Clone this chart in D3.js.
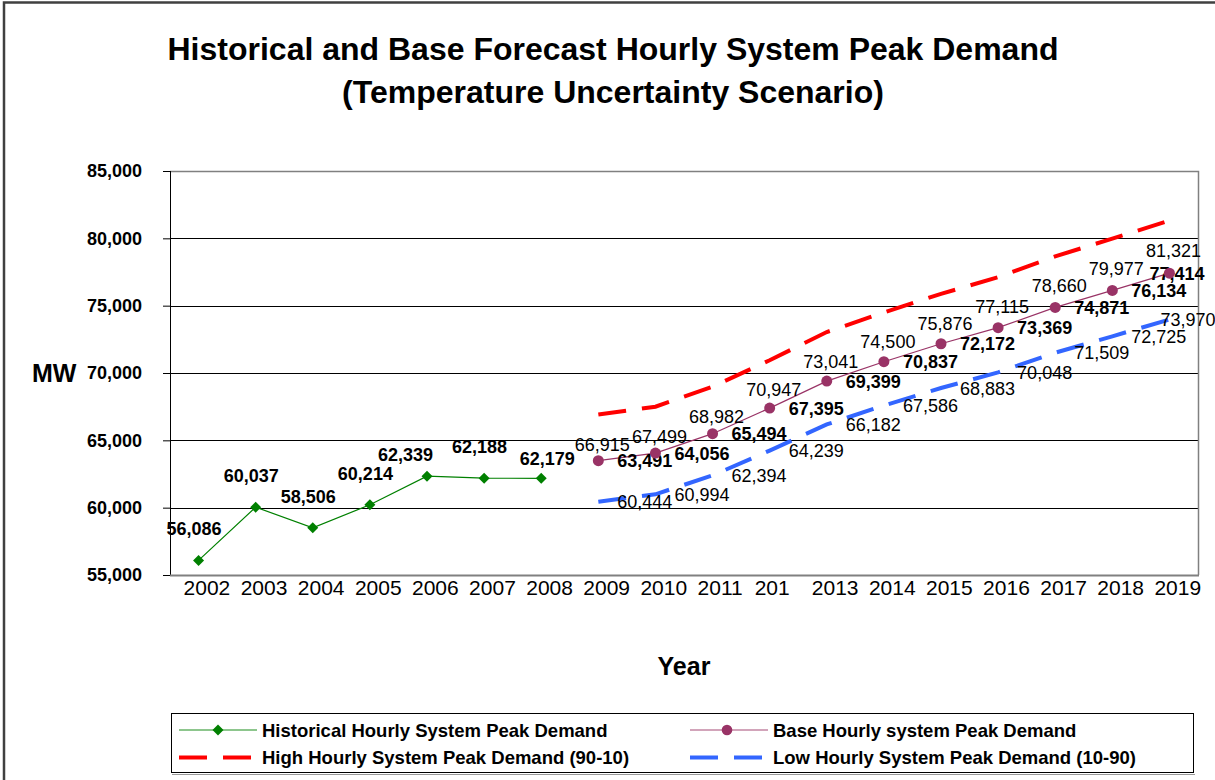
<!DOCTYPE html>
<html>
<head>
<meta charset="utf-8">
<script src="https://cdn.jsdelivr.net/npm/d3@7"></script>
<style>
  html, body { margin: 0; padding: 0; background: #fff; overflow: hidden; }
  text { font-family: "Liberation Sans", Arial, Helvetica, sans-serif; fill: #000; }
</style>
</head>
<body>
<svg id="chart" width="1215" height="780"></svg>
<script>
// ---- Data ----
const categories = ["2002", "2003", "2004", "2005", "2006", "2007", "2008", "2009", "2010",
                    "2011", "2012", "2013", "2014", "2015", "2016", "2017", "2018", "2019"];
const tickLabels = ["2002", "2003", "2004", "2005", "2006", "2007", "2008", "2009", "2010",
                    "2011", "201", "2013", "2014", "2015", "2016", "2017", "2018", "2019"];
const yTicks = [55000, 60000, 65000, 70000, 75000, 80000, 85000];

const historicalYears = ["2002", "2003", "2004", "2005", "2006", "2007", "2008"];
const historical = [56086, 60037, 58506, 60214, 62339, 62188, 62179];

const forecastYears = ["2009", "2010", "2011", "2012", "2013", "2014", "2015", "2016", "2017", "2018", "2019"];
const base = [63491, 64056, 65494, 67395, 69399, 70837, 72172, 73369, 74871, 76134, 77414];
const high = [66915, 67499, 68982, 70947, 73041, 74500, 75876, 77115, 78660, 79977, 81321];
const low  = [60444, 60994, 62394, 64239, 66182, 67586, 68883, 70048, 71509, 72725, 73970];

const seriesNames = {
  historical: "Historical Hourly System Peak Demand",
  base: "Base Hourly system Peak Demand",
  high: "High Hourly System Peak Demand (90-10)",
  low: "Low Hourly System Peak Demand (10-90)"
};

// ---- Layout ----
const W = 1215, H = 780;
const plot = { left: 170, right: 1198, top: 171, bottom: 575 };
const colors = { historical: "#008000", base: "#993366", high: "#FF0000", low: "#3366FF" };
const fmt = d3.format(",");

const svg = d3.select("#chart");

// outer chart frame (runs past the right and bottom edges)
svg.append("rect")
  .attr("x", 4).attr("y", 2.5).attr("width", W + 20).attr("height", H + 20)
  .attr("fill", "#fff").attr("stroke", "#404040").attr("stroke-width", 2.5);

const x = d3.scaleBand().domain(categories).range([plot.left, plot.right]);
const cx = d => x(d) + x.bandwidth() / 2;
const y = d3.scaleLinear().domain([55000, 85000]).range([plot.bottom, plot.top]);

// ---- Titles ----
svg.append("text").attr("x", 613).attr("y", 60).attr("text-anchor", "middle")
  .style("font-size", "32px").style("font-weight", "bold")
  .text("Historical and Base Forecast Hourly System Peak Demand");
svg.append("text").attr("x", 613).attr("y", 103).attr("text-anchor", "middle")
  .style("font-size", "32px").style("font-weight", "bold")
  .text("(Temperature Uncertainty Scenario)");

// ---- Gridlines ----
svg.append("g")
  .selectAll("line")
  .data(yTicks.filter(t => t > 55000 && t < 85000))
  .join("line")
  .attr("x1", plot.left).attr("x2", plot.right)
  .attr("y1", d => Math.round(y(d)) + 0.5).attr("y2", d => Math.round(y(d)) + 0.5)
  .attr("stroke", "#000").attr("stroke-width", 1);

// plot-area border: top and right in grey
svg.append("path")
  .attr("d", `M${plot.left},${plot.top + 0.5}H${plot.right + 0.5}V${plot.bottom}`)
  .attr("fill", "none").attr("stroke", "#808080").attr("stroke-width", 1.5);

// ---- Y axis ----
const yAxis = svg.append("g")
  .attr("transform", `translate(${plot.left},0)`)
  .call(d3.axisLeft(y).tickValues(yTicks).tickSize(7).tickPadding(21).tickFormat(fmt));
yAxis.select(".domain").remove();
yAxis.selectAll(".tick line").attr("stroke", "#000");
yAxis.selectAll(".tick text")
  .style("font-size", "18px").style("font-weight", "bold")
  .style("font-family", "'Liberation Sans', Arial, sans-serif");
svg.append("line")
  .attr("x1", plot.left + 0.5).attr("x2", plot.left + 0.5)
  .attr("y1", plot.top).attr("y2", plot.bottom)
  .attr("stroke", "#000").attr("stroke-width", 1);

svg.append("text").attr("x", 32).attr("y", 382)
  .style("font-size", "25px").style("font-weight", "bold").text("MW");

// ---- X axis ----
const xAxis = svg.append("g")
  .attr("transform", `translate(0,${plot.bottom})`)
  .call(d3.axisBottom(x).tickSize(0).tickFormat((d, i) => tickLabels[i]));
xAxis.select(".domain").remove();
xAxis.selectAll(".tick text")
  .attr("text-anchor", "start").attr("x", -15).attr("y", 20).attr("dy", 0)
  .style("font-size", "21px")
  .style("font-family", "'Liberation Sans', Arial, sans-serif");
svg.append("line")
  .attr("x1", plot.left).attr("x2", plot.right + 1)
  .attr("y1", plot.bottom + 0.5).attr("y2", plot.bottom + 0.5)
  .attr("stroke", "#808080").attr("stroke-width", 2);

svg.append("text").attr("x", (plot.left + plot.right) / 2).attr("y", 675)
  .attr("text-anchor", "middle")
  .style("font-size", "25px").style("font-weight", "bold").text("Year");

// ---- Series ----
const hist = historicalYears.map((yr, i) => ({ year: yr, value: historical[i] }));
const mk = arr => forecastYears.map((yr, i) => ({ year: yr, value: arr[i] }));
const baseData = mk(base), highData = mk(high), lowData = mk(low);

const line = d3.line().x(d => cx(d.year)).y(d => y(d.value));

const dash = "28,16";
svg.append("path").datum(highData).attr("d", line)
  .attr("fill", "none").attr("stroke", colors.high).attr("stroke-width", 4)
  .attr("stroke-dasharray", dash);
svg.append("path").datum(lowData).attr("d", line)
  .attr("fill", "none").attr("stroke", colors.low).attr("stroke-width", 4)
  .attr("stroke-dasharray", dash);

svg.append("path").datum(hist).attr("d", line)
  .attr("fill", "none").attr("stroke", colors.historical).attr("stroke-width", 1.2);
svg.append("path").datum(baseData).attr("d", line)
  .attr("fill", "none").attr("stroke", colors.base).attr("stroke-width", 1.2);

const diamond = d3.symbol().type(d3.symbolDiamond2 || d3.symbolSquare2).size(60);
const diamondPath = s => `M0,${-s}L${s},0L0,${s}L${-s},0Z`;

// ---- Data labels (drawn beneath the markers) ----
const labels = svg.append("g").style("font-size", "18px");

// historical: above the point; two labels sit nudged aside
const histNudge = { "2006": [-17, 10], "2008": [10.5, 11.5] };
labels.selectAll(".hl").data(hist).join("text")
  .attr("text-anchor", "middle").style("font-weight", "bold")
  .attr("x", d => cx(d.year) - 4.5 + (histNudge[d.year] ? histNudge[d.year][0] : 0))
  .attr("y", d => y(d.value) - 25 + (histNudge[d.year] ? histNudge[d.year][1] : 0))
  .text(d => fmt(d.value));

const lastYear = forecastYears[forecastYears.length - 1];

// base: to the right, bold; last one pulled back inside the chart
labels.selectAll(".bl").data(baseData).join("text")
  .style("font-weight", "bold")
  .attr("x", d => cx(d.year) + (d.year === lastYear ? -20 : 19))
  .attr("y", d => y(d.value) + 6.5)
  .text(d => fmt(d.value));

// low: to the right
labels.selectAll(".ll").data(lowData).join("text")
  .attr("x", d => cx(d.year) + (d.year === lastYear ? -9 : 19))
  .attr("y", d => y(d.value) + 6.5)
  .text(d => fmt(d.value));

// high: below the line
labels.selectAll(".hh").data(highData).join("text")
  .attr("text-anchor", "middle")
  .attr("x", d => cx(d.year) + 4)
  .attr("y", d => y(d.value) + 36)
  .text(d => fmt(d.value));

// ---- Markers ----
svg.append("g").selectAll("path").data(hist).join("path")
  .attr("transform", d => `translate(${cx(d.year)},${y(d.value)})`)
  .attr("d", diamondPath(5.5)).attr("fill", colors.historical);
svg.append("g").selectAll("circle").data(baseData).join("circle")
  .attr("cx", d => cx(d.year)).attr("cy", d => y(d.value)).attr("r", 5.5)
  .attr("fill", colors.base);

// ---- Legend ----
const lg = svg.append("g");
lg.append("rect").attr("x", 171.5).attr("y", 713.5).attr("width", 1022).attr("height", 59)
  .attr("fill", "#fff").attr("stroke", "#000").attr("stroke-width", 1);
lg.append("line").attr("x1", 172).attr("x2", 1195).attr("y1", 774.5).attr("y2", 774.5)
  .attr("stroke", "#999").attr("stroke-width", 1);

const legendItems = [
  { key: "historical", x: 179, y: 730, kind: "diamond" },
  { key: "base", x: 690, y: 730, kind: "circle" },
  { key: "high", x: 179, y: 757.5, kind: "dash" },
  { key: "low", x: 690, y: 757.5, kind: "dash" }
];
legendItems.forEach(it => {
  const g = lg.append("g").attr("transform", `translate(${it.x},${it.y})`);
  if (it.kind === "dash") {
    g.append("line").attr("x1", 0).attr("x2", 74).attr("y1", 0).attr("y2", 0)
      .attr("stroke", colors[it.key]).attr("stroke-width", 4).attr("stroke-dasharray", dash);
  } else {
    g.append("line").attr("x1", 0).attr("x2", 78).attr("y1", 0).attr("y2", 0)
      .attr("stroke", colors[it.key]).attr("stroke-width", 1.5).attr("stroke-opacity", 0.6);
    if (it.kind === "diamond") {
      g.append("path").attr("transform", "translate(39,0)").attr("d", diamondPath(5.5))
        .attr("fill", colors[it.key]);
    } else {
      g.append("circle").attr("cx", 37).attr("cy", 0).attr("r", 5.3).attr("fill", colors[it.key]);
    }
  }
  g.append("text").attr("x", 83).attr("y", 6.5)
    .style("font-size", "18.5px").style("font-weight", "bold")
    .text(seriesNames[it.key]);
});
</script>
</body>
</html>
